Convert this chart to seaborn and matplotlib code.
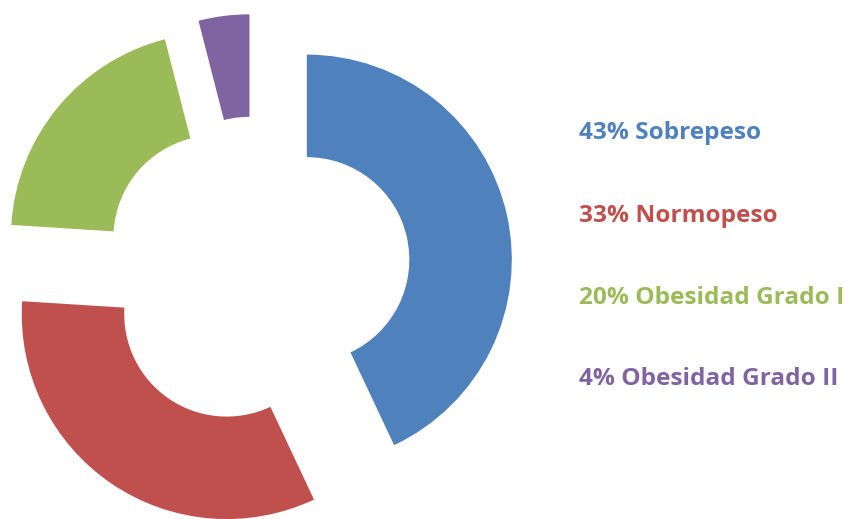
import matplotlib
matplotlib.use("Agg")
import matplotlib.pyplot as plt
import seaborn as sns

categories = ["Sobrepeso", "Normopeso", "Obesidad Grado I", "Obesidad Grado II"]
values = [43, 33, 20, 4]
colors = ["#4F81BD", "#C0504D", "#9BBB59", "#8064A2"]

sns.set_theme(style="white")
plt.rcParams['font.family'] = ['Open Sans', 'DejaVu Sans']

W, H = 851, 519
fig = plt.figure(figsize=(W / 100, H / 100), dpi=100)
ax = fig.add_axes([0, 0, 1, 1])

cx, cy, R = 256, 271, 205
ax.pie(values, colors=colors, startangle=90, counterclock=False,
       explode=[0.254] * len(values), radius=1.0,
       wedgeprops=dict(width=0.5, linewidth=0))
ax.set_aspect('auto')
ax.set_xlim(-cx / R, (W - cx) / R)
ax.set_ylim(-(H - cy) / R, cy / R)
ax.axis('off')

label_y = [133, 216, 298, 379]
for cat, val, col, yp in zip(categories, values, colors, label_y):
    fig.text(579 / W, 1 - yp / H, f"{val}% {cat}", color=col, fontsize=17.6,
             fontweight='bold', ha='left', va='center')

fig.savefig("out.png", dpi=100, facecolor="white")
